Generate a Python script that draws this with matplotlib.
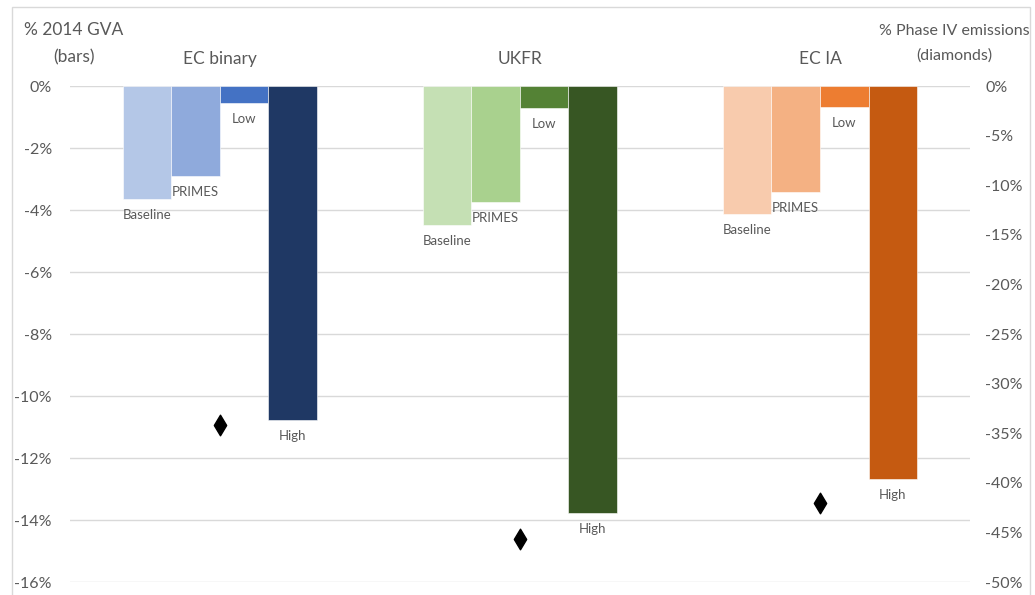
import numpy as np
import matplotlib.pyplot as plt
from matplotlib.patches import Rectangle

plt.rcParams['font.family'] = ['Lato', 'DejaVu Sans']

# data
groups = ['EC binary', 'UKFR', 'EC IA']
scenarios = ['Baseline', 'PRIMES', 'Low', 'High']
gva = {  # % of 2014 GVA (bars, left axis)
    'EC binary': [-3.65, -2.9, -0.55, -10.77],
    'UKFR': [-4.48, -3.74, -0.71, -13.77],
    'EC IA': [-4.13, -3.42, -0.68, -12.68],
}
emissions = [-34.2, -45.7, -42.0]  # % Phase IV emissions (diamonds, right axis)
colours = {
    'EC binary': ['#b4c7e7', '#8faadc', '#4472c4', '#1f3864'],
    'UKFR': ['#c5e0b4', '#a9d18e', '#548235', '#375623'],
    'EC IA': ['#f8cbad', '#f4b183', '#ed7d31', '#c55a11'],
}
left_ticks = np.arange(0, -17, -2)
right_ticks = np.arange(0, -51, -5)

txt = '#595959'
fig = plt.figure(figsize=(10.35, 5.95), dpi=100)
ax = fig.add_axes([0.0676, 0.0218, 0.8696, 0.8336])
ax2 = ax.twinx()

width = 0.1617
offsets = (np.arange(4) - 1.5) * width
x = np.arange(len(groups))
for i, g in enumerate(groups):
    bars = ax.bar(x[i] + offsets, gva[g], width, color=colours[g],
                  edgecolor='white', linewidth=0.4, zorder=2)
    for b, name in zip(bars, scenarios):
        ax.annotate(name, (b.get_x() + b.get_width() / 2, b.get_height()),
                    xytext=(0, -11.5), textcoords='offset points',
                    ha='center', va='center', fontsize=9.5, color=txt)
    # group title above the plot area
    ax.annotate(g, (x[i], 1.0), xycoords=ax.get_xaxis_transform(),
                xytext=(0, 19.5), textcoords='offset points',
                ha='center', va='center', fontsize=12.5, color=txt)

ax2.scatter(x, emissions, marker='d', s=110, color='black', zorder=3)

ax.set_xlim(-0.5, 2.5)
ax.set_ylim(-16, 0)
ax2.set_ylim(-50, 0)
ax.set_yticks(left_ticks)
ax.set_yticklabels([f'{t}%' for t in left_ticks])
ax2.set_yticks(right_ticks)
ax2.set_yticklabels([f'{t}%' for t in right_ticks])
ax.set_xticks([])
ax.grid(axis='y', color='#d9d9d9', linewidth=1, zorder=0)
ax.set_axisbelow(True)
for a in (ax, ax2):
    for s in a.spines.values():
        s.set_visible(False)
    a.tick_params(axis='y', length=0, labelsize=11.5, labelcolor=txt)
ax.tick_params(axis='y', pad=13)
ax2.tick_params(axis='y', pad=11)

fig.text(0.0715, 0.927, '% 2014 GVA\n(bars)', ha='center', va='center',
         fontsize=12.5, color=txt, linespacing=1.85)
fig.text(0.922, 0.927, '% Phase IV emissions\n(diamonds)', ha='center', va='center',
         fontsize=11.5, color=txt, linespacing=1.95)

fig.patches.append(Rectangle((12 / 1035, -0.01), (1030 - 12) / 1035, 1 - 7 / 595 + 0.01,
                             transform=fig.transFigure, fill=False,
                             edgecolor='#d9d9d9', linewidth=1))

fig.savefig('out.png', dpi=100)
